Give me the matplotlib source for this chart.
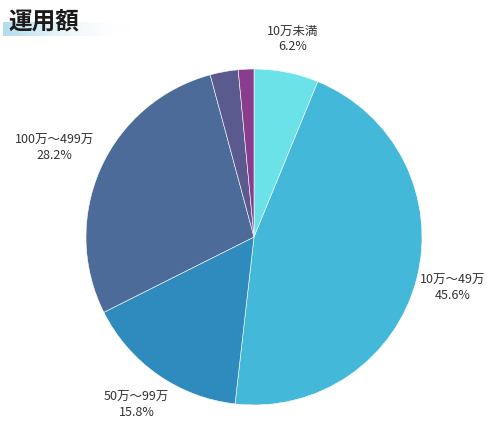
import matplotlib
matplotlib.use("Agg")
import matplotlib.pyplot as plt
import numpy as np

plt.rcParams['font.family'] = ['Noto Sans CJK JP', 'DejaVu Sans']

categories = ["10万未満", "10万～49万", "50万～99万", "100万～499万", "", ""]
values = [6.2, 45.6, 15.8, 28.2, 2.7, 1.5]
colors = ["#6ae2e8", "#44b8d8", "#2f8bbe", "#4c6b99", "#5b5a8f", "#8a3d8c"]

fig = plt.figure(figsize=(5.02, 4.25), dpi=100)

# title with gradient highlight bar
tax = fig.add_axes([0, 0, 1, 1])
tax.set_xlim(0, 502)
tax.set_ylim(425, 0)
tax.axis("off")
grad = np.linspace(0.75, 0.0, 256).reshape(1, -1)
from matplotlib.colors import LinearSegmentedColormap
cmap = LinearSegmentedColormap.from_list("g", [(1, 1, 1, 0), (0.45, 0.75, 0.88, 1)])
tax.imshow(grad, extent=(3, 133, 36, 22), cmap=cmap, vmin=0, vmax=1, aspect="auto", zorder=1)
tax.text(8, 22, "運用額", fontsize=17, fontweight="bold", color="#1a1a1a", va="center", ha="left", zorder=2)

ax = fig.add_axes([254/502 - 168/502, (425-237)/425 - 168/425, 336/502, 336/425])
wedges, _ = ax.pie(values, colors=colors, startangle=90, counterclock=False,
                   wedgeprops=dict(edgecolor="white", linewidth=0.4))
ax.set_aspect("auto")

for w, cat, v in zip(wedges, categories, values):
    if not cat:
        continue
    ang = np.deg2rad((w.theta1 + w.theta2) / 2)
    r = 1.22 if v > 10 else 1.2
    if cat.startswith("100"):
        r = 1.3
    ax.text(r * np.cos(ang), r * np.sin(ang), f"{cat}\n{v}%", ha="center", va="center",
            fontsize=9, color="#333333", linespacing=1.2)

ax.set_xlim(-1, 1)
ax.set_ylim(-1, 1)
fig.savefig("out.png", dpi=100)
